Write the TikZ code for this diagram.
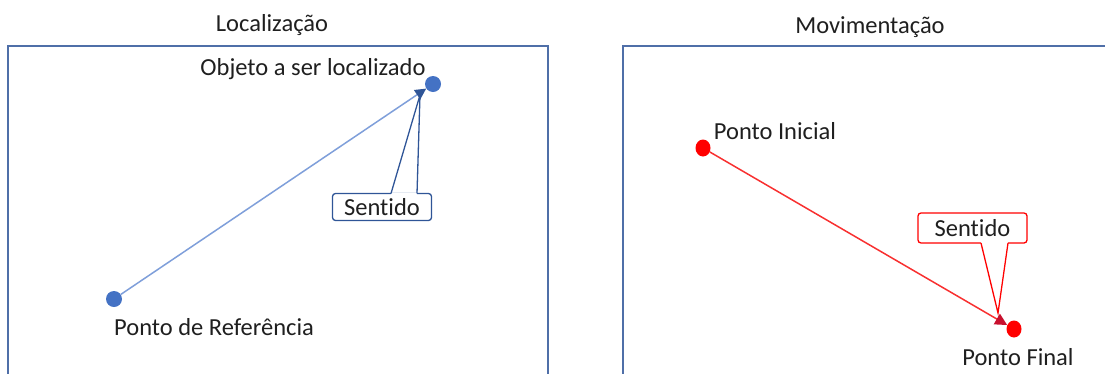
\documentclass[tikz,border=0pt]{standalone}
\usepackage{fontspec}
\setmainfont{Carlito}[RawFeature={-liga}]
\usetikzlibrary{arrows.meta,calc,shapes.geometric}
\definecolor{frame}{HTML}{4F6FA8}
\definecolor{bdot}{HTML}{4472C4}
\definecolor{bline}{HTML}{7F9FDA}
\definecolor{bhead}{HTML}{2F5597}
\definecolor{rdot}{HTML}{FF0000}
\definecolor{rline}{HTML}{F83030}
\definecolor{rhead}{HTML}{C8102E}
\tikzset{
  lbl/.style={font=\fontsize{24.5}{29}\selectfont, text=black!88, inner sep=0},
  bluedot/.style={circle, fill=bdot, inner sep=0, minimum size=16},
  reddot/.style={ellipse, fill=rdot, inner sep=0, minimum width=15, minimum height=17},
  panel/.style={draw=frame, line width=1.4},
  calloutbox/.style={lbl, rounded corners=3, fill=white, line width=1.3, minimum width=99, minimum height=27},
}
\begin{document}
\begin{tikzpicture}[x=1pt,y=-1pt]
\useasboundingbox (0,0) rectangle (1105,373);
\begin{scope}
\clip (0,0) rectangle (1105,373);
\draw[panel] (8,46) rectangle (548,400);
\draw[panel] (623,46) rectangle (1130,400);
\end{scope}
% titles
\node[lbl] (t1) at (272,25) {Localização};
\node[lbl] (t2) at (870,27) {Movimentação};
% left panel
\node[bluedot] (ref) at (114,299) {};
\node[bluedot] (obj) at (433,84) {};
\node[lbl] (reflbl) at (214,327) {Ponto de Referência};
\node[lbl] (objlbl) at (313,69) {Objeto a ser localizado};
\draw[bline, line width=1.5, -{Triangle[length=11,width=11,color=bhead]}] (ref) -- (obj);
\node[calloutbox, draw=bhead] (s1) at (382,207) {Sentido};
\coordinate (s1tip) at (420,95);
\coordinate (s1a) at (391,193.5);
\coordinate (s1b) at (417,193.5);
\draw[white, line width=2] (s1a) -- (s1b);
\draw[bhead, line width=1.3] (s1a) -- (s1tip) -- (s1b);
% right panel
\node[reddot] (ini) at (703,148) {};
\node[reddot] (fin) at (1014,329) {};
\node[lbl] (inilbl) at (775,131) {Ponto Inicial};
\node[lbl] (finlbl) at (1018,357) {Ponto Final};
\draw[rline, line width=1.5, -{Triangle[length=12,width=12,color=rhead]}] (ini) -- (fin);
\node[calloutbox, draw=rdot, minimum width=109, minimum height=30] (s2) at (972.5,228) {Sentido};
\coordinate (s2tip) at (998,313);
\coordinate (s2a) at (981,243);
\coordinate (s2b) at (1008,243);
\draw[white, line width=2] (s2a) -- (s2b);
\draw[rdot, line width=1.3] (s2a) -- (s2tip) -- (s2b);
\end{tikzpicture}
\end{document}
